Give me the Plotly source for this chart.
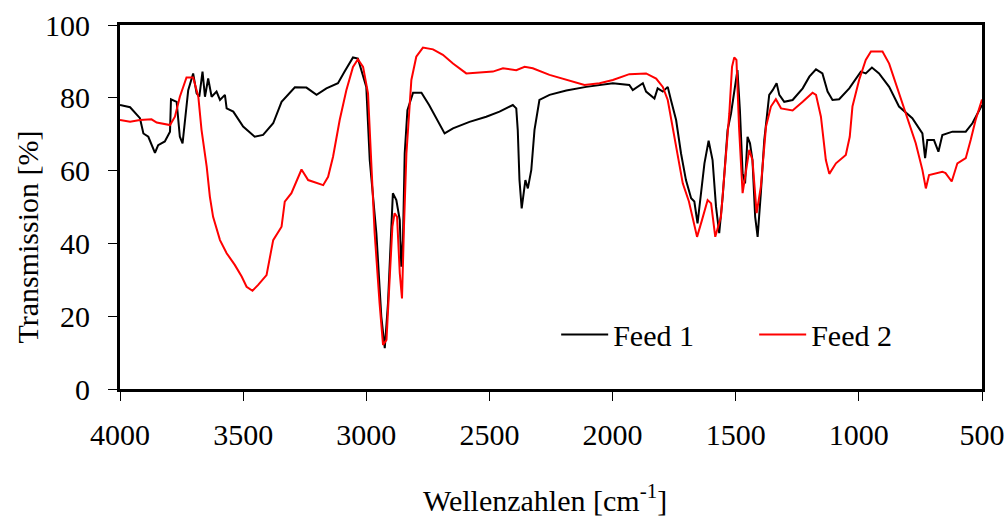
import plotly.graph_objects as go

wn_feed1 = [4000, 3959, 3919, 3905, 3885, 3858, 3845, 3818, 3797, 3793, 3770, 3757, 3746, 3736,
            3723, 3703, 3689, 3678, 3665, 3655, 3642, 3628, 3608, 3594, 3574, 3567, 3540, 3500,
            3453, 3419, 3378, 3344, 3290, 3243, 3202, 3162, 3115, 3088, 3054, 3034, 3000, 2986,
            2959, 2939, 2925, 2912, 2898, 2892, 2878, 2864, 2858, 2851, 2844, 2833, 2810, 2776,
            2745, 2682, 2648, 2581, 2513, 2459, 2405, 2391, 2385, 2378, 2369, 2362, 2354, 2344,
            2330, 2317, 2297, 2256, 2188, 2107, 1999, 1932, 1918, 1877, 1864, 1830, 1817, 1796,
            1776, 1763, 1742, 1722, 1702, 1681, 1668, 1655, 1644, 1627, 1610, 1594, 1580, 1567,
            1553, 1533, 1519, 1506, 1493, 1483, 1472, 1462, 1452, 1442, 1432, 1421, 1411, 1398,
            1384, 1364, 1350, 1334, 1323, 1303, 1269, 1228, 1201, 1174, 1148, 1127, 1107, 1080,
            1039, 992, 972, 947, 918, 877, 837, 783, 742, 731, 722, 695, 677, 661, 620, 566, 539, 500]
t_feed1 = [78.0, 77.4, 74.4, 70.2, 69.3, 64.9, 67.0, 68.0, 70.7, 79.6, 78.9, 69.3, 67.5, 74.8,
           82.1, 86.7, 81.2, 80.3, 87.2, 80.3, 85.3, 80.3, 81.7, 79.4, 80.8, 77.1, 76.2, 72.1,
           69.3, 69.8, 73.0, 78.9, 82.9, 82.8, 80.8, 82.6, 84.0, 87.2, 91.1, 90.8, 83.0, 62.9,
           42.8, 19.9, 11.2, 23.5, 44.6, 53.8, 51.9, 46.4, 33.6, 40.9, 64.7, 76.6, 81.4, 81.4,
           78.0, 70.2, 71.6, 73.4, 74.8, 76.2, 78.0, 77.1, 71.2, 57.4, 49.6, 53.8, 57.4, 55.1,
           60.2, 71.2, 79.4, 80.8, 82.0, 83.0, 84.0, 83.5, 82.1, 84.0, 81.7, 79.8, 82.6, 81.7,
           83.0, 79.4, 73.9, 64.7, 57.4, 52.4, 51.5, 45.5, 51.5, 62.0, 68.2, 62.9, 50.1, 42.8,
           52.8, 71.2, 75.7, 82.1, 87.6, 76.6, 59.3, 56.5, 69.3, 67.5, 62.9, 47.3, 41.8, 53.8,
           68.4, 80.8, 82.1, 84.0, 80.8, 78.9, 79.4, 82.6, 85.8, 87.8, 86.7, 81.7, 79.4, 79.6,
           82.6, 87.2, 86.7, 88.3, 86.7, 83.0, 77.6, 74.4, 70.2, 63.4, 68.4, 68.4, 65.2, 69.8,
           70.7, 70.7, 73.0, 78.0]

wn_feed2 = [4000, 3959, 3919, 3872, 3851, 3797, 3777, 3757, 3730, 3703, 3682, 3669, 3648, 3635,
            3622, 3594, 3567, 3534, 3506, 3486, 3462, 3439, 3405, 3378, 3344, 3331, 3304, 3263,
            3236, 3202, 3175, 3155, 3135, 3108, 3081, 3054, 3034, 3013, 2993, 2979, 2966, 2946,
            2932, 2918, 2905, 2894, 2885, 2875, 2864, 2855, 2847, 2837, 2817, 2797, 2770, 2729,
            2689, 2648, 2594, 2486, 2445, 2391, 2357, 2324, 2256, 2188, 2114, 2053, 1999, 1932,
            1864, 1823, 1796, 1776, 1756, 1735, 1715, 1690, 1674, 1657, 1637, 1614, 1600, 1583,
            1560, 1540, 1526, 1515, 1506, 1497, 1486, 1472, 1459, 1445, 1432, 1415, 1398, 1377,
            1357, 1337, 1316, 1269, 1228, 1188, 1174, 1154, 1134, 1120, 1093, 1053, 1037, 1026,
            999, 972, 951, 904, 877, 850, 809, 769, 742, 728, 715, 661, 648, 623, 600, 566, 546,
            526, 500]
t_feed2 = [73.9, 73.4, 73.9, 74.1, 73.2, 72.5, 74.8, 80.3, 85.6, 85.6, 80.3, 71.2, 61.1, 52.8,
           47.3, 40.9, 37.3, 34.1, 30.9, 28.1, 27.0, 28.6, 31.3, 40.9, 44.6, 51.5, 53.8, 60.3,
           57.4, 56.5, 56.0, 58.3, 63.8, 73.9, 82.1, 88.5, 90.6, 88.5, 81.2, 61.1, 42.8, 23.5,
           12.1, 13.5, 29.9, 44.6, 48.3, 47.3, 31.8, 24.9, 44.6, 64.7, 84.9, 91.3, 93.8, 93.3,
           91.8, 89.4, 86.7, 87.2, 88.1, 87.6, 88.5, 88.1, 86.3, 84.9, 83.5, 84.0, 84.9, 86.5,
           86.7, 85.3, 83.0, 79.4, 72.1, 64.7, 56.5, 51.5, 46.4, 41.8, 46.4, 51.9, 51.0, 41.8,
           47.3, 62.9, 75.7, 88.5, 91.1, 90.4, 71.2, 53.8, 59.7, 65.7, 62.9, 48.3, 55.6, 72.1,
           77.6, 79.6, 77.1, 76.5, 78.9, 81.4, 80.8, 74.8, 62.9, 59.1, 62.0, 64.3, 69.3, 77.6,
           84.9, 90.4, 92.7, 92.7, 89.4, 84.0, 75.7, 67.5, 60.2, 55.1, 58.8, 59.7, 59.3, 57.0,
           62.0, 63.4, 68.4, 73.9, 79.5]

x_ticks = [4000, 3500, 3000, 2500, 2000, 1500, 1000, 500]
y_ticks = [0, 20, 40, 60, 80, 100]

FONT = "'Times New Roman', 'Liberation Serif', 'DejaVu Serif', serif"

fig = go.Figure()
fig.add_trace(go.Scatter(x=wn_feed1, y=t_feed1, mode="lines", name="Feed 1",
                         line=dict(color="#000000", width=2)))
fig.add_trace(go.Scatter(x=wn_feed2, y=t_feed2, mode="lines", name="Feed 2",
                         line=dict(color="#ff0000", width=2)))

axis_common = dict(showline=True, linecolor="black", linewidth=3, mirror=True,
                   ticks="outside", ticklen=9, tickwidth=1, tickcolor="black",
                   showgrid=False, zeroline=False, automargin=False,
                   tickfont=dict(family=FONT, size=30, color="black"))

fig.update_xaxes(range=[4000, 500], tickvals=x_ticks, ticklabelstandoff=8, **axis_common)
fig.update_yaxes(range=[0, 100], tickvals=y_ticks, ticklabelstandoff=12, **axis_common)

fig.update_layout(
    width=1007, height=517,
    margin=dict(l=120, r=25, t=25, b=128),
    plot_bgcolor="white", paper_bgcolor="white",
    font=dict(family=FONT, size=30, color="black"),
    showlegend=True,
    legend=dict(orientation="h", x=0.506, y=0.15, xanchor="left", yanchor="middle",
                bgcolor="rgba(0,0,0,0)", font=dict(family=FONT, size=30),
                itemwidth=47, entrywidth=136, entrywidthmode="pixels"),
    annotations=[
        dict(text="Transmission [%]", xref="paper", yref="paper", x=-0.107, y=0.418,
             showarrow=False, textangle=-90, xanchor="center", yanchor="middle",
             font=dict(family=FONT, size=30, color="black")),
        dict(text="Wellenzahlen [cm<sup>-1</sup>]", xref="paper", yref="paper", x=0.493, y=-0.30,
             showarrow=False, xanchor="center", yanchor="middle",
             font=dict(family=FONT, size=30, color="black")),
    ],
)

fig.write_html("out.html")
